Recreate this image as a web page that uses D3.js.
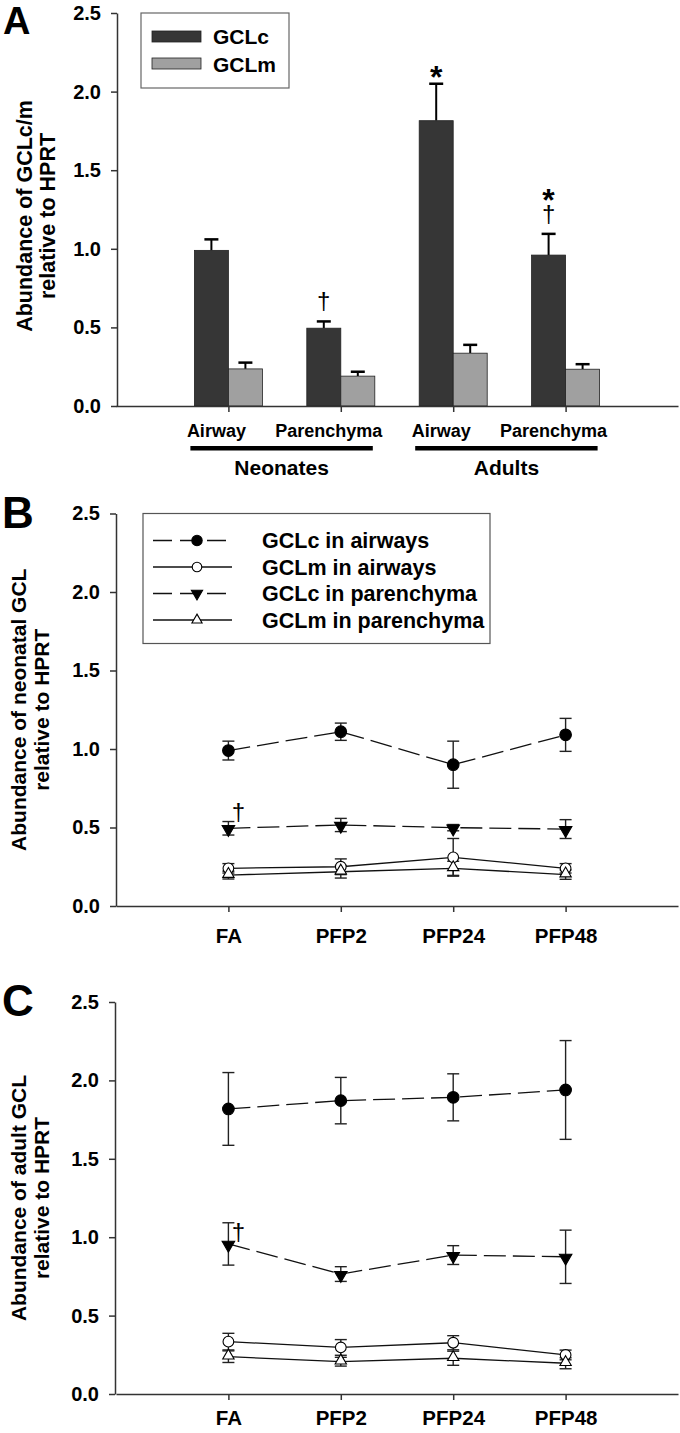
<!DOCTYPE html>
<html><head><meta charset="utf-8">
<script src="https://cdn.jsdelivr.net/npm/d3@7"></script>
<style>
body{margin:0;background:#fff}
svg{display:block}
text{font-family:"Liberation Sans",Arial,Helvetica,sans-serif;font-weight:bold;fill:#000}
</style>
</head><body>
<svg id="chart" width="680" height="1433"></svg>
<script>
// ---------- DATA ----------
const tissues = ["Airway", "Parenchyma", "Airway", "Parenchyma"];
const ageGroups = ["Neonates", "Adults"];
const barSeries = ["GCLc", "GCLm"];
const gclcMean = [0.99, 0.495, 1.815, 0.96];
const gclcErr  = [0.07, 0.043, 0.235, 0.135];
const gclmMean = [0.236, 0.19, 0.336, 0.234];
const gclmErr  = [0.04, 0.028, 0.053, 0.032];
const barMarks = ["", "†", "*", "*†"];

const timepoints = ["FA", "PFP2", "PFP24", "PFP48"];
const lineSeries = ["GCLc in airways", "GCLm in airways", "GCLc in parenchyma", "GCLm in parenchyma"];

const neoGCLcAir = [0.99, 1.11, 0.90, 1.09];
const neoGCLcAirErr = [0.06, 0.055, 0.15, 0.105];
const neoGCLmAir = [0.24, 0.25, 0.31, 0.24];
const neoGCLmAirErr = [0.03, 0.05, 0.12, 0.03];
const neoGCLcPar = [0.495, 0.516, 0.499, 0.49];
const neoGCLcParErr = [0.043, 0.042, 0.02, 0.06];
const neoGCLmPar = [0.197, 0.218, 0.24, 0.20];
const neoGCLmParErr = [0.025, 0.04, 0.045, 0.03];

const adGCLcAir = [1.818, 1.871, 1.892, 1.939];
const adGCLcAirErr = [0.232, 0.148, 0.15, 0.315];
const adGCLmAir = [0.334, 0.297, 0.327, 0.249];
const adGCLmAirErr = [0.053, 0.05, 0.045, 0.031];
const adGCLcPar = [0.957, 0.765, 0.886, 0.875];
const adGCLcParErr = [0.135, 0.047, 0.06, 0.17];
const adGCLmPar = [0.238, 0.206, 0.228, 0.196];
const adGCLmParErr = [0.037, 0.028, 0.045, 0.035];

const yTicks = [0, 0.5, 1.0, 1.5, 2.0, 2.5];

// ---------- HELPERS ----------
const svg = d3.select("#chart");
const X0 = 116, X1 = 678;
const fmt = d3.format(".1f");

function yAxis(g, y, x) {
  const a = g.append("g").attr("transform", `translate(${x},0)`)
    .call(d3.axisLeft(y).tickValues(yTicks).tickFormat(fmt).tickSize(6).tickSizeOuter(0).tickPadding(10));
  a.select(".domain").attr("stroke", "#333").attr("stroke-width", 1.5);
  a.selectAll(".tick line").attr("stroke", "#333").attr("stroke-width", 1.5);
  a.selectAll("text").style("font-size", "20px").attr("fill", "#000");
  return a;
}
function xAxis(g, x, y0, labels, off) {
  const a = g.append("g").attr("transform", `translate(0,${y0})`)
    .call(d3.axisBottom(x).tickSize(6).tickSizeOuter(0).tickFormat(labels ? null : ""));
  a.select(".domain").attr("stroke", "#333").attr("stroke-width", 1.5);
  a.selectAll(".tick line").attr("stroke", "#333").attr("stroke-width", 1.5);
  a.selectAll("text").style("font-size", "20.5px").attr("fill", "#000").attr("y", off).attr("dy", 0);
  return a;
}
function yTitle(g, cx, cy, l1, l2, fs) {
  const t = g.append("g").attr("transform", `translate(${cx},${cy}) rotate(-90)`);
  t.append("text").attr("text-anchor", "middle").style("font-size", fs + "px").text(l1);
  t.append("text").attr("text-anchor", "middle").attr("y", 23).style("font-size", fs + "px").text(l2);
}
function panelLetter(g, x, y, s, L) {
  g.append("text").attr("x", x).attr("y", y).style("font-size", s + "px").text(L);
}

// ---------- PANEL A ----------
{
  const g = svg.append("g");
  const y = d3.scaleLinear().domain([0, 2.5]).range([406, 13]);
  const x = d3.scalePoint().domain(d3.range(tissues.length)).range([X0, X1]).padding(1);
  const sub = d3.scaleBand().domain(barSeries).range([-34, 34]);
  const data = tissues.map((t, i) => ({i, vals: [
    {s: "GCLc", m: gclcMean[i], e: gclcErr[i]},
    {s: "GCLm", m: gclmMean[i], e: gclmErr[i]}]}));
  const colors = {GCLc: "#363636", GCLm: "#a0a0a0"};

  data.forEach(d => d.vals.forEach(v => {
    const cx = x(d.i) + sub(v.s) + sub.bandwidth() / 2;
    g.append("line").attr("x1", cx).attr("x2", cx).attr("y1", y(v.m)).attr("y2", y(v.m + v.e))
      .attr("stroke", "#000").attr("stroke-width", 2);
    g.append("line").attr("x1", cx - 7).attr("x2", cx + 7).attr("y1", y(v.m + v.e)).attr("y2", y(v.m + v.e))
      .attr("stroke", "#000").attr("stroke-width", 2.5);
  }));
  data.forEach(d => d.vals.forEach(v => {
    g.append("rect").attr("x", x(d.i) + sub(v.s)).attr("width", sub.bandwidth())
      .attr("y", y(v.m)).attr("height", y(0) - y(v.m))
      .attr("fill", colors[v.s]).attr("stroke", "#222").attr("stroke-width", 0.8);
  }));

  yAxis(g, y, 117);
  xAxis(g, x, 406, false, 37);

  data.forEach(d => {
    const m = barMarks[d.i];
    if (!m) return;
    const cx = x(d.i) + sub("GCLc") + sub.bandwidth() / 2;
    const top = y(gclcMean[d.i] + gclcErr[d.i]);
    const t = g.append("text").attr("text-anchor", "middle");
    if (m.includes("*")) {
      t.append("tspan").attr("x", cx).attr("y", m === "*" ? top + 4 : top - 23)
        .style("font-size", "32px").text("*");
    }
    if (m.includes("†")) {
      t.append("tspan").attr("x", cx).attr("y", top - 12)
        .style("font-size", "24px").style("font-weight", "normal").text("†");
    }
  });

  tissues.forEach((t, i) => {
    g.append("text").attr("x", x(i) - 12).attr("y", 437).attr("text-anchor", "middle")
      .style("font-size", "18px").text(t);
  });
  ageGroups.forEach((a, k) => {
    const xa = x(2 * k) - 38, xb = x(2 * k + 1) + 32;
    g.append("rect").attr("x", xa).attr("y", 446).attr("width", xb - xa).attr("height", 4.5).attr("fill", "#000");
    g.append("text").attr("x", (xa + xb) / 2).attr("y", 475).attr("text-anchor", "middle")
      .style("font-size", "21px").text(a);
  });

  g.append("rect").attr("x", 141).attr("y", 13).attr("width", 148).attr("height", 75)
    .attr("fill", "#fff").attr("stroke", "#666").attr("stroke-width", 1.2);
  barSeries.forEach((s, k) => {
    g.append("rect").attr("x", 152).attr("y", 31 + k * 27).attr("width", 49).attr("height", 11)
      .attr("fill", colors[s]).attr("stroke", "#222").attr("stroke-width", 0.8);
    g.append("text").attr("x", 213).attr("y", 43.5 + k * 28).style("font-size", "21px").text(s);
  });

  panelLetter(g, 3, 34, 38, "A");
  yTitle(g, 32, 216, "Abundance of GCLc/m", "relative to HPRT", 21.5);
}

// ---------- LINE PANELS ----------
function symbolFor(k) {
  return [
    {type: d3.symbolCircle, size: 106, fill: "#000", rot: 0},
    {type: d3.symbolCircle, size: 90, fill: "#fff", rot: 0},
    {type: d3.symbolTriangle, size: 68, fill: "#000", rot: 180},
    {type: d3.symbolTriangle, size: 56, fill: "#fff", rot: 0}
  ][k];
}
const dash = ["22,7", null, "22,7", null];

function linePanel(top, zero, series, axisX, letter, title1, title2, marks, legend, labOff) {
  const g = svg.append("g");
  const y = d3.scaleLinear().domain([0, 2.5]).range([zero, top]);
  const x = d3.scalePoint().domain(timepoints).range([X0, X1]).padding(1);
  const line = d3.line().x((d, i) => x(timepoints[i])).y(d => y(d));

  series.forEach((s, k) => {
    g.append("path").attr("d", line(s.m)).attr("fill", "none")
      .attr("stroke", "#111").attr("stroke-width", 1.3).attr("stroke-dasharray", dash[k]);
  });
  series.forEach((s, k) => {
    s.m.forEach((v, i) => {
      const cx = x(timepoints[i]);
      const lo = y(v - s.e[i]), hi = y(v + s.e[i]);
      g.append("line").attr("x1", cx).attr("x2", cx).attr("y1", lo).attr("y2", hi)
        .attr("stroke", "#222").attr("stroke-width", 1.4);
      [lo, hi].forEach(yy => g.append("line").attr("x1", cx - 6).attr("x2", cx + 6)
        .attr("y1", yy).attr("y2", yy).attr("stroke", "#222").attr("stroke-width", 1.4));
    });
  });
  series.forEach((s, k) => {
    const sy = symbolFor(k);
    s.m.forEach((v, i) => {
      g.append("path").attr("d", d3.symbol().type(sy.type).size(sy.size)())
        .attr("transform", `translate(${x(timepoints[i])},${y(v) + (sy.type === d3.symbolTriangle ? (sy.rot ? 1 : -1) : 0)}) rotate(${sy.rot})`)
        .attr("fill", sy.fill).attr("stroke", "#000").attr("stroke-width", 1.1);
    });
  });

  yAxis(g, y, axisX);
  xAxis(g, x, zero, true, labOff);

  marks.forEach(mk => {
    g.append("text").attr("x", x(mk.t) + 10).attr("y", mk.y).attr("text-anchor", "middle")
      .style("font-size", "24px").style("font-weight", "normal").text("†");
  });

  if (legend) {
    g.append("rect").attr("x", 143).attr("y", top).attr("width", 347).attr("height", 130)
      .attr("fill", "#fff").attr("stroke", "#555").attr("stroke-width", 1.2);
    lineSeries.forEach((name, k) => {
      const ry = top + 27 + k * 26.5;
      g.append("line").attr("x1", 153).attr("x2", 232).attr("y1", ry).attr("y2", ry)
        .attr("stroke", "#111").attr("stroke-width", 1.3)
        .attr("stroke-dasharray", dash[k] ? "19,8" : null);
      const sy = symbolFor(k);
      g.append("path").attr("d", d3.symbol().type(sy.type).size(sy.size * 0.8)())
        .attr("transform", `translate(197,${ry}) rotate(${sy.rot})`)
        .attr("fill", sy.fill).attr("stroke", "#000").attr("stroke-width", 1.1);
      g.append("text").attr("x", 262).attr("y", ry + 7.5).style("font-size", "21.5px").text(name);
    });
  }

  panelLetter(g, 2, top + 14, 44, letter);
  yTitle(g, 26, (top + zero) / 2, title1, title2, 21);
}

linePanel(513.5, 906,
  [{m: neoGCLcAir, e: neoGCLcAirErr}, {m: neoGCLmAir, e: neoGCLmAirErr},
   {m: neoGCLcPar, e: neoGCLcParErr}, {m: neoGCLmPar, e: neoGCLmParErr}],
  116, "B", "Abundance of neonatal GCL", "relative to HPRT",
  [{t: "FA", y: 820}], true, 37);

linePanel(1002, 1394,
  [{m: adGCLcAir, e: adGCLcAirErr}, {m: adGCLmAir, e: adGCLmAirErr},
   {m: adGCLcPar, e: adGCLcParErr}, {m: adGCLmPar, e: adGCLmParErr}],
  115, "C", "Abundance of adult GCL", "relative to HPRT",
  [{t: "FA", y: 1240}], false, 31);
</script>
</body></html>
